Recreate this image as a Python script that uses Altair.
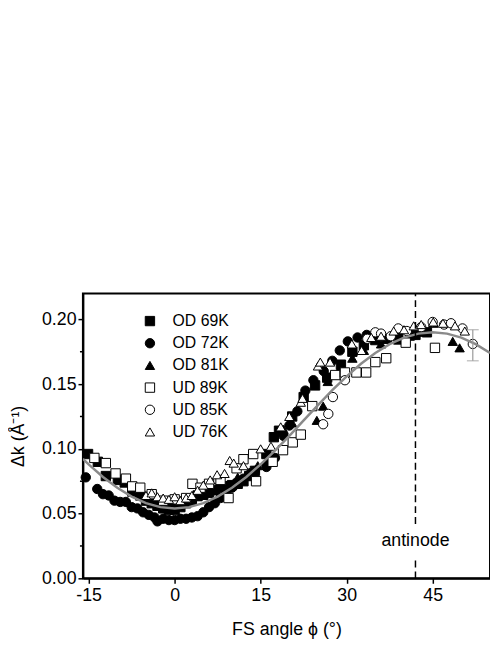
import altair as alt
import pandas as pd

SERIES = ["OD 69K", "OD 72K", "OD 81K", "UD 89K", "UD 85K", "UD 76K"]
SHAPES = ["square", "circle", "triangle-up", "square", "circle", "triangle-up"]
FILLS = ["black", "black", "black", "white", "white", "white"]
STROKES = ["black"] * 6

od69_x = [-15.1, -13.4, -12.0, -9.9, -8.7, -7.4, -6.0, -5.0, -4.0, -3.0, -2.0, -1.0, 0.0, 1.0, 2.0, 3.0, 4.0, 5.0,
          6.0, 7.0, 8.0, 9.0, 10.0, 11.0, 12.0, 13.0, 14.0, 16.0, 17.3, 18.2, 20.5, 22.5, 24.5, 26.6, 29.0, 31.0,
          33.0, 35.0, 37.0, 39.0, 42.0, 44.0]
od69_y = [0.096, 0.090, 0.079, 0.076, 0.074, 0.067, 0.064, 0.060, 0.058, 0.056, 0.054, 0.053, 0.053, 0.055, 0.058,
          0.060, 0.064, 0.065, 0.066, 0.068, 0.070, 0.071, 0.072, 0.073, 0.075, 0.079, 0.083, 0.096, 0.109, 0.114,
          0.125, 0.140, 0.149, 0.155, 0.165, 0.175, 0.180, 0.184, 0.185, 0.187, 0.188, 0.190]

od72_x = [-15.5, -13.5, -12.5, -11.5, -10.5, -9.5, -8.5, -7.5, -6.5, -5.5, -4.5, -3.5, -3.0, -2.0, -1.0, 0.0, 1.0,
          2.0, 3.0, 4.0, 5.0, 6.0, 7.0, 8.0, 9.0, 10.0, 11.0, 12.0, 13.0, 14.0, 16.0, 17.5, 19.0, 20.0, 21.4, 22.8,
          24.2, 26.0, 27.5, 28.8, 30.2, 31.9, 33.5]
od72_y = [0.078, 0.069, 0.065, 0.064, 0.060, 0.059, 0.059, 0.055, 0.054, 0.051, 0.049, 0.047, 0.044, 0.046, 0.045,
          0.045, 0.046, 0.046, 0.047, 0.048, 0.051, 0.055, 0.058, 0.062, 0.066, 0.070, 0.074, 0.077, 0.080, 0.083,
          0.086, 0.093, 0.110, 0.118, 0.129, 0.145, 0.153, 0.160, 0.168, 0.176, 0.183, 0.186, 0.188]

od81_x = [-3.0, -2.0, -1.0, 0.0, 1.0, 2.0, 3.0, 4.0, 5.0, 7.0, 9.0, 11.0, 13.0, 14.5, 16.0, 19.0, 20.5, 24.8, 25.9,
          26.7, 29.0, 31.0, 33.0, 36.0, 39.0, 41.0, 43.0, 45.1, 48.5, 49.7]
od81_y = [0.058, 0.059, 0.058, 0.058, 0.060, 0.061, 0.062, 0.063, 0.064, 0.068, 0.072, 0.078, 0.082, 0.087, 0.090,
          0.115, 0.120, 0.122, 0.133, 0.152, 0.163, 0.170, 0.176, 0.181, 0.184, 0.187, 0.190, 0.197, 0.183, 0.178]

ud89_x = [-14.0, -12.0, -10.3, -8.5, -7.4, -6.0, -4.0, -2.0, 0.0, 2.0, 3.1, 4.5, 6.0, 8.0, 9.4, 10.8, 12.0, 13.7,
          14.2, 17.1, 18.9, 20.6, 22.0, 24.0, 28.0, 29.7, 31.7, 33.4, 35.0, 36.9, 40.3, 45.4]
ud89_y = [0.093, 0.089, 0.081, 0.077, 0.071, 0.070, 0.065, 0.060, 0.061, 0.062, 0.073, 0.070, 0.073, 0.076, 0.062,
          0.085, 0.092, 0.096, 0.075, 0.090, 0.099, 0.105, 0.111, 0.133, 0.157, 0.159, 0.159, 0.159, 0.167, 0.170,
          0.182, 0.178]

ud85_x = [25.9, 26.8, 27.6, 29.7, 33.6, 35.0, 36.0, 37.7, 39.0, 40.5, 43.0, 45.0, 47.0, 48.2, 50.2, 52.0]
ud85_y = [0.119, 0.127, 0.140, 0.153, 0.185, 0.190, 0.189, 0.187, 0.193, 0.191, 0.194, 0.198, 0.196, 0.197, 0.193,
          0.181]

ud76_x = [-5.0, -4.0, -3.0, -2.0, -1.0, 0.0, 1.0, 2.0, 3.0, 4.0, 5.0, 6.2, 7.4, 8.7, 9.6, 10.3, 12.0, 15.0, 16.8,
          18.5, 20.0, 22.0, 22.3, 25.0, 25.4, 27.1, 30.9, 32.6, 34.3, 36.0, 38.2, 40.0, 41.7, 43.0, 45.1, 46.8, 48.9,
          50.6]
ud76_y = [0.064, 0.066, 0.063, 0.062, 0.061, 0.063, 0.060, 0.062, 0.064, 0.068, 0.072, 0.076, 0.080, 0.081, 0.091,
          0.089, 0.087, 0.100, 0.102, 0.117, 0.125, 0.136, 0.139, 0.164, 0.167, 0.167, 0.181, 0.176, 0.186, 0.187,
          0.191, 0.192, 0.195, 0.196, 0.198, 0.197, 0.195, 0.191]

fit_x = [-16.0, -15.0, -12.5, -10.0, -7.5, -5.0, -2.5, 0.0, 2.5, 5.0, 7.5, 10.0, 12.5, 15.0, 17.5, 20.0, 22.5, 25.0,
         27.5, 30.0, 32.5, 35.0, 37.5, 40.0, 42.5, 45.0, 47.5, 50.0, 52.5, 55.0]
fit_y = [0.0922, 0.0880, 0.0783, 0.0699, 0.0631, 0.0581, 0.0550, 0.0540, 0.0550, 0.0581, 0.0631, 0.0699, 0.0783,
         0.0880, 0.0987, 0.1100, 0.1220, 0.1338, 0.1453, 0.1560, 0.1657, 0.1741, 0.1809, 0.1859, 0.1890, 0.1900,
         0.1890, 0.1859, 0.1809, 0.1741]

ERR_X = [52.0]
ERR_LO = [0.168]
ERR_HI = [0.192]

ANTINODE_X = 42.0
ANTINODE_SEG_LO = [0.0, 0.042]
ANTINODE_SEG_HI = [0.015, 0.22]
ANTINODE_LABEL_Y = 0.029

X_TICKS = [-15, 0, 15, 30, 45]
Y_TICKS = [0.00, 0.05, 0.10, 0.15, 0.20]
Y_MINOR = [0.025, 0.075, 0.125, 0.175]
X_DOMAIN = [-16, 55]
Y_DOMAIN = [0, 0.22]

FONT = "Liberation Sans"

all_x = [od69_x, od72_x, od81_x, ud89_x, ud85_x, ud76_x]
all_y = [od69_y, od72_y, od81_y, ud89_y, ud85_y, ud76_y]
rows = []
idx = 0
for name, xs, ys in zip(SERIES, all_x, all_y):
    for a, b in zip(xs, ys):
        rows.append({"series": name, "x": a, "y": b, "idx": idx})
        idx += 1
df = pd.DataFrame(rows)

xscale = alt.Scale(domain=X_DOMAIN, nice=False, zero=False)
yscale = alt.Scale(domain=Y_DOMAIN, nice=False)

axis_common = dict(grid=False, tickSize=5, tickWidth=1.5, tickColor="black", domainColor="black", domainWidth=2,
                   labelFont=FONT, labelFontSize=18, labelColor="black", titleFont=FONT, titleFontSize=18,
                   titleFontWeight="normal", titleColor="black")

xaxis = alt.Axis(values=X_TICKS, title="FS angle ϕ (°)", labelPadding=4, titlePadding=16,
                 labelExpr="datum.value < 0 ? '-' + format(-datum.value, 'd') : format(datum.value, 'd')",
                 **axis_common)
yaxis = alt.Axis(values=Y_TICKS, format=".2f", title="Δk (Å⁻¹)", labelPadding=2, titlePadding=14, **axis_common)


def make_legend():
    return alt.Legend(title=None, orient="none", legendX=60, legendY=20, labelFont=FONT, labelFontSize=16,
                      labelColor="black", symbolSize=90, symbolStrokeWidth=1,
                      labelOffset=15, rowPadding=6.5)


points = alt.Chart(df).mark_point(filled=True, strokeWidth=1, opacity=1, size=90).encode(
    x=alt.X("x:Q", scale=xscale, axis=xaxis),
    y=alt.Y("y:Q", scale=yscale, axis=yaxis),
    shape=alt.Shape("series:N", scale=alt.Scale(domain=SERIES, range=SHAPES), legend=make_legend()),
    fill=alt.Fill("series:N", scale=alt.Scale(domain=SERIES, range=FILLS), legend=make_legend()),
    stroke=alt.Stroke("series:N", scale=alt.Scale(domain=SERIES, range=STROKES), legend=make_legend()),
    order=alt.Order("idx:Q"),
)

fit = alt.Chart(pd.DataFrame({"x": fit_x, "y": fit_y})).mark_line(
    color="#8a8a8a", strokeWidth=2.5, clip=True).encode(
    x=alt.X("x:Q", scale=xscale), y=alt.Y("y:Q", scale=yscale))

err_df = pd.DataFrame({"x": ERR_X, "lo": ERR_LO, "hi": ERR_HI})
err_rule = alt.Chart(err_df).mark_rule(color="#999999", strokeWidth=1.2).encode(
    x=alt.X("x:Q", scale=xscale), y=alt.Y("lo:Q", scale=yscale), y2="hi:Q")
err_caps = alt.Chart(pd.DataFrame({"x": ERR_X * 2, "y": ERR_LO + ERR_HI})).mark_tick(
    color="#999999", thickness=1.2, size=12, orient="horizontal").encode(
    x=alt.X("x:Q", scale=xscale), y=alt.Y("y:Q", scale=yscale))

ant_df = pd.DataFrame({"x": [ANTINODE_X] * 2, "lo": ANTINODE_SEG_LO, "hi": ANTINODE_SEG_HI})
ant = alt.Chart(ant_df).mark_rule(color="black", strokeWidth=1.5, strokeDash=[7, 4]).encode(
    x=alt.X("x:Q", scale=xscale), y=alt.Y("lo:Q", scale=yscale), y2="hi:Q")
ant_text = alt.Chart(pd.DataFrame({"x": [ANTINODE_X], "y": [ANTINODE_LABEL_Y], "t": ["antinode"]})).mark_text(
    font=FONT, fontSize=18, color="black", align="center", baseline="middle").encode(
    x=alt.X("x:Q", scale=xscale), y=alt.Y("y:Q", scale=yscale), text="t:N")

minor = alt.Chart(pd.DataFrame({"y": Y_MINOR})).mark_rule(color="black", strokeWidth=1.5).encode(
    x=alt.value(-3), x2=alt.value(0), y=alt.Y("y:Q", scale=yscale))

chart = alt.layer(points, fit, err_rule, err_caps, ant, ant_text, minor).properties(
    width=413, height=289,
    background="white",
    autosize=alt.AutoSizeParams(type="none"),
    padding={"left": 76, "top": 285, "right": 0, "bottom": 62},
).configure_view(stroke="black", strokeWidth=2)

chart.save("out.html", embed_options={"renderer": "svg", "actions": False})
